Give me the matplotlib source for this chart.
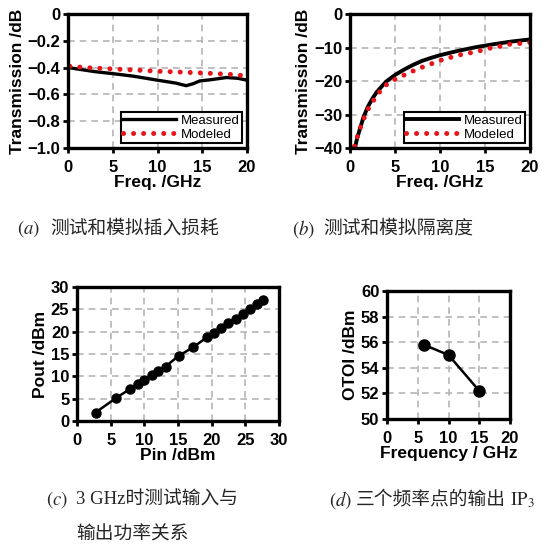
import matplotlib.pyplot as plt

# (a) insertion loss
freq_a_meas = [0.1, 1, 2, 3, 5, 7.3, 10, 12, 13.2, 14, 14.7, 16, 17.7, 19, 20]
loss_meas = [-0.40, -0.41, -0.42, -0.43, -0.445, -0.464, -0.494, -0.515, -0.535, -0.52, -0.50, -0.49, -0.474, -0.48, -0.494]
freq_a_mod = [0.2, 2, 5, 8, 10, 12, 15, 18, 20]
loss_mod = [-0.39, -0.40, -0.41, -0.42, -0.427, -0.432, -0.44, -0.45, -0.462]

# (b) isolation
freq_b_meas = [0.55, 0.8, 1.0, 1.5, 2, 2.5, 3, 4, 5, 6, 7, 8, 9, 10, 12, 14, 16, 18, 20]
iso_meas = [-40, -37, -35.2, -30.8, -27.6, -25.2, -23.2, -20.2, -18.2, -16.6, -15.2, -14.0,
            -13.1, -12.3, -11.0, -9.9, -9.0, -8.2, -7.6]
freq_b_mod = [0.5, 0.67, 1.0, 1.4, 1.8, 2.3, 2.9, 3.5, 4.3, 5.5, 6.5, 7.4, 8.4, 9.4, 10.4,
              11.4, 12.5, 13.6, 14.7, 15.7, 16.8, 17.8, 18.9, 20]
iso_mod = [-39.5, -37.9, -35, -32.2, -29.5, -27, -24.7, -22.5, -20.5, -18.8, -17.7, -16.5,
           -15.5, -14.5, -13.5, -12.8, -12, -11.5, -10.8, -10.1, -9.6, -9.0, -8.8, -8.5]

# (c) Pin vs Pout at 3 GHz
pin = [2.75, 5.85, 7.9, 9.0, 10.0, 11.1, 12.1, 13.15, 15.1, 17.25, 19.25, 20.35, 21.4,
       22.5, 23.6, 24.6, 25.65, 26.75, 27.65]
pout = [1.9, 5.2, 7.2, 8.3, 9.2, 10.2, 11.2, 12.2, 14.6, 16.5, 18.7, 19.6, 20.8, 21.9,
        22.8, 24.0, 25.0, 26.2, 27.2]

# (d) output IP3
freq_d = [6, 10, 15]
otoi = [55.8, 55.0, 52.2]

W, H = 559, 551
fig = plt.figure(figsize=(W / 100, H / 100), dpi=100)

SANS = ['Liberation Sans', 'DejaVu Sans']
TICK_FS = 12
LAB_FS = 12.5


def box(x0, y0, x1, y1):
    # pixel box (top-left origin) -> figure fraction
    return [x0 / W, 1 - y1 / H, (x1 - x0) / W, (y1 - y0) / H]


def style(ax, xticks, yticks, xlim, ylim, ylabels=None):
    ax.set_xlim(*xlim)
    ax.set_ylim(*ylim)
    ax.set_xticks(xticks)
    ax.set_yticks(yticks)
    if ylabels is not None:
        ax.set_yticklabels(ylabels)
    for sp in ax.spines.values():
        sp.set_linewidth(2.4)
        sp.set_color('black')
    ax.tick_params(direction='out', length=3.5, width=2, labelsize=TICK_FS)
    ax.tick_params(axis='x', pad=5)
    ax.tick_params(axis='y', pad=2)
    for lb in ax.get_xticklabels() + ax.get_yticklabels():
        lb.set_fontweight('bold')
        lb.set_family(SANS)
    ax.grid(True, color='#b5b5b5', linestyle=(0, (4, 3)), linewidth=1.2)
    ax.set_axisbelow(True)


def labels(ax, xl, yl):
    ax.set_xlabel(xl, fontsize=LAB_FS, fontweight='bold', family=SANS, labelpad=0)
    ax.set_ylabel(yl, fontsize=LAB_FS, fontweight='bold', family=SANS, labelpad=2)


dot_style = dict(color='#e8141b', linestyle=(0, (0.01, 2.0)), linewidth=3.6,
                 dash_capstyle='round')
leg_kw = dict(loc='lower right', prop={'family': SANS, 'size': 9.5}, fancybox=False,
              edgecolor='black', framealpha=1, handlelength=4.0, borderpad=0.15,
              labelspacing=0.15, handletextpad=0.4, borderaxespad=0.4)

# (a)
ax1 = fig.add_axes(box(68, 14, 247, 148))
ax1.plot(freq_a_meas, loss_meas, color='black', linewidth=2.4, label='Measured')
ax1.plot(freq_a_mod, loss_mod, label='Modeled', **dot_style)
style(ax1, [0, 5, 10, 15, 20], [0, -0.2, -0.4, -0.6, -0.8, -1.0], (0, 20), (-1.0, 0),
      ['0', '\u22120.2', '\u22120.4', '\u22120.6', '\u22120.8', '\u22121.0'])
labels(ax1, 'Freq. /GHz', 'Transmission /dB')
leg = ax1.legend(**leg_kw)
leg.get_frame().set_linewidth(1.5)

# (b)
ax2 = fig.add_axes(box(350, 14, 530, 148))
ax2.plot(freq_b_meas, iso_meas, color='black', linewidth=2.8, label='Measured')
ax2.plot(freq_b_mod, iso_mod, label='Modeled', **dot_style)
style(ax2, [0, 5, 10, 15, 20], [0, -10, -20, -30, -40], (0, 20), (-40, 0),
      ['0', '\u221210', '\u221220', '\u221230', '\u221240'])
labels(ax2, 'Freq. /GHz', 'Transmission /dB')
leg = ax2.legend(**leg_kw)
leg.get_frame().set_linewidth(1.5)

# (c)
ax3 = fig.add_axes(box(77, 287, 279, 421))
ax3.plot(pin, pout, color='black', linewidth=1.8, marker='o', markersize=6.5)
style(ax3, [0, 5, 10, 15, 20, 25, 30], [0, 5, 10, 15, 20, 25, 30], (0, 30), (0, 30))
labels(ax3, 'Pin /dBm', 'Pout /dBm')

# (d)
ax4 = fig.add_axes(box(387, 291, 510, 419))
ax4.plot(freq_d, otoi, color='black', linewidth=1.8, marker='o', markersize=8)
style(ax4, [0, 5, 10, 15, 20], [50, 52, 54, 56, 58, 60], (0, 20), (50, 60))
labels(ax4, 'Frequency / GHz', 'OTOI /dBm')

# captions
CAP_FS = 13.5
CJK = ['Liberation Serif', 'Noto Sans CJK SC']
plt.rcParams['mathtext.fontset'] = 'stix'


def cap(x, y, s, **kw):
    fig.text(x / W, 1 - y / H, s, fontsize=CAP_FS, va='center', ha='left',
             color='#262626', family=CJK, **kw)


cap(17, 229, r'$(a)$')
cap(50, 229, '测试和模拟插入损耗')
cap(292, 229, r'$(b)$')
cap(323, 229, '测试和模拟隔离度')
cap(46, 500, r'$(c)$')
cap(76, 500, '3 GHz时测试输入与')
cap(76, 535, '输出功率关系')
cap(329, 500, r'$(d)$')
cap(356, 500, '三个频率点的输出')
cap(510, 500, r'$\mathrm{IP}_3$')

fig.savefig('out.png', dpi=100)
